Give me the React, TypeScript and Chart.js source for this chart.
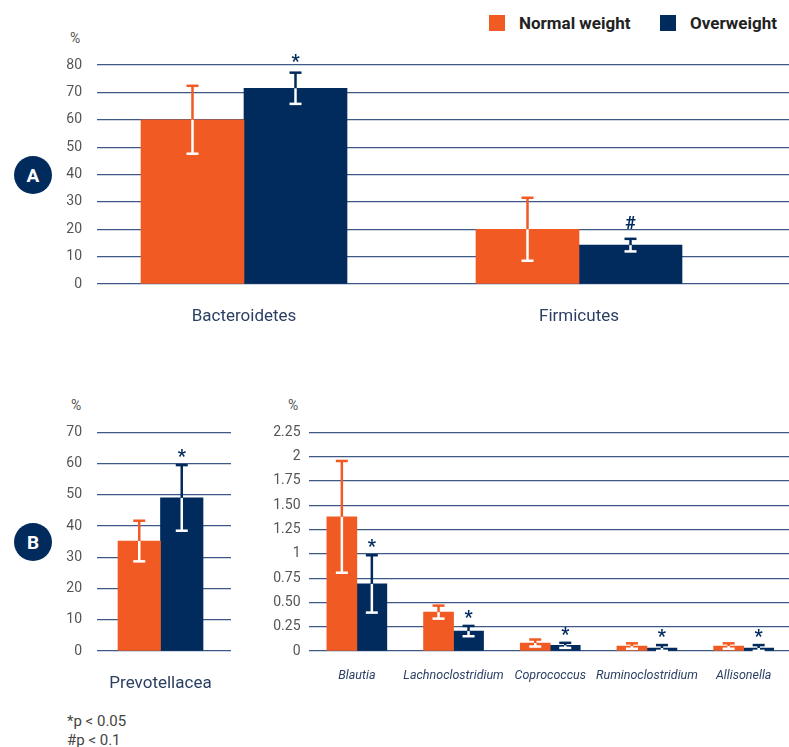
import React, { useEffect, useRef } from 'react';
import { Chart, registerables } from 'chart.js';

Chart.register(...registerables);

// ---------- data ----------
const seriesNames = ['Normal weight', 'Overweight'];

const categoriesA = ['Bacteroidetes', 'Firmicutes'];
const normalA = [60, 20];
const normalAErr = [12.4, 11.5];
const overA = [71.5, 14.2];
const overAErr = [5.7, 2.3];
const marksA = ['*', '#'];

const categoriesB1 = ['Prevotellacea'];
const normalB1 = [35.2];
const normalB1Err = [6.5];
const overB1 = [49.0];
const overB1Err = [10.5];
const marksB1 = ['*'];

const categoriesB2 = ['Blautia', 'Lachnoclostridium', 'Coprococcus', 'Ruminoclostridium', 'Allisonella'];
const normalB2 = [1.38, 0.4, 0.082, 0.051, 0.051];
const normalB2Err = [0.575, 0.067, 0.036, 0.028, 0.028];
const overB2 = [0.69, 0.205, 0.058, 0.031, 0.031];
const overB2Err = [0.295, 0.053, 0.026, 0.03, 0.03];
const marksB2 = ['*', '*', '*', '*', '*'];
const yTicksB2 = ['0', '0.25', '0.50', '0.75', '1', '1.25', '1.50', '1.75', '2', '2.25'];

const footnotes = ['*p < 0.05', '#p < 0.1'];

// ---------- styles ----------
const NAVY = '#002b5c';
const ORANGE = '#f15a22';
const GRID = '#3d5a86';
const TICK = '#555555';
const LABEL = '#2b3f63';
const FONT = "Roboto, 'Noto Sans', sans-serif";

Chart.defaults.font.family = FONT;

const errorBarsPlugin = {
  id: 'errorBars',
  afterDatasetsDraw(chart: any, _args: any, opts: any) {
    const ctx = chart.ctx;
    const yScale = chart.scales.y;
    const cap = opts.capWidth ?? 12;
    const lw = opts.lineWidth ?? 2.5;
    const gap = opts.gap ?? 12;
    ctx.save();
    ctx.lineWidth = lw;
    ctx.lineCap = 'butt';
    chart.data.datasets.forEach((ds: any, i: number) => {
      const meta = chart.getDatasetMeta(i);
      meta.data.forEach((el: any, j: number) => {
        const parsed = meta.controller.getParsed(j);
        const v = parsed.y;
        const e = ds.errors ? ds.errors[j] : 0;
        const x = el.x;
        const top = yScale.getPixelForValue(v + e);
        const bot = yScale.getPixelForValue(Math.max(v - e, 0));
        const barTop = el.y;
        const col = ds.backgroundColor;
        if (top < barTop) {
          ctx.strokeStyle = col;
          ctx.beginPath();
          ctx.moveTo(x, top);
          ctx.lineTo(x, Math.min(barTop, bot));
          ctx.stroke();
        }
        if (bot > barTop) {
          ctx.strokeStyle = '#ffffff';
          ctx.beginPath();
          ctx.moveTo(x, Math.max(top, barTop));
          ctx.lineTo(x, bot);
          ctx.stroke();
        }
        const drawCap = (yy: number) => {
          ctx.strokeStyle = yy < barTop ? col : '#ffffff';
          ctx.beginPath();
          ctx.moveTo(x - cap / 2, yy);
          ctx.lineTo(x + cap / 2, yy);
          ctx.stroke();
        };
        drawCap(top);
        if (v - e > 0) drawCap(bot);
        const mark = ds.marks ? ds.marks[j] : '';
        if (mark) {
          ctx.fillStyle = NAVY;
          ctx.font = `bold 18px ${FONT}`;
          ctx.textAlign = 'center';
          ctx.textBaseline = 'middle';
          const off = mark === '*' ? 3.5 : 0;
          ctx.fillText(mark, x, top - gap + off);
        }
      });
    });
    ctx.restore();
  },
};

function yAxis(min: number, max: number, step: number, width: number, pad: number, cb?: any) {
  return {
    min,
    max,
    afterFit: (s: any) => {
      s.width = width;
    },
    ticks: {
      stepSize: step,
      padding: pad,
      color: TICK,
      font: { size: 14 },
      ...(cb ? { callback: cb } : {}),
    },
    grid: { color: GRID, lineWidth: 1.2, drawTicks: false },
    border: { display: false },
  };
}

function linearCatAxis(cats: string[], min: number, max: number, height: number, pad: number) {
  return {
    type: 'linear',
    offset: false,
    min,
    max,
    grid: { display: false },
    border: { display: false },
    afterBuildTicks: (s: any) => {
      s.ticks = cats.map((_, i) => ({ value: i + 1 }));
    },
    afterFit: (s: any) => {
      s.height = height;
    },
    ticks: {
      autoSkip: false,
      maxRotation: 0,
      minRotation: 0,
      padding: pad,
      color: LABEL,
      font: { size: 17 },
      callback: (v: number) => cats[v - 1] ?? '',
    },
  };
}

const pts = (cats: string[], vals: number[]) => cats.map((_, i) => ({ x: i + 1, y: vals[i] }));

function configA(): any {
  return {
    type: 'bar',
    data: {
      datasets: [
        { label: seriesNames[0], data: pts(categoriesA, normalA), backgroundColor: ORANGE, errors: normalAErr, marks: [] },
        { label: seriesNames[1], data: pts(categoriesA, overA), backgroundColor: NAVY, errors: overAErr, marks: marksA },
      ],
    },
    options: {
      animation: false,
      responsive: false,
      maintainAspectRatio: false,
      layout: { padding: { top: 25, left: 0, right: 0, bottom: 0 } },
      datasets: { bar: { barThickness: 103, borderWidth: 0 } },
      plugins: {
        legend: { display: false },
        tooltip: { enabled: false },
        errorBars: { gap: 14, capWidth: 12, lineWidth: 2.5 },
      },
      scales: {
        x: linearCatAxis(categoriesA, 1 - 147 / 335, 2 + 210 / 335, 56, 15),
        y: yAxis(0, 80, 10, 97, 15),
      },
    },
    plugins: [errorBarsPlugin],
  };
}

function configB1(): any {
  return {
    type: 'bar',
    data: {
      datasets: [
        { label: seriesNames[0], data: pts(categoriesB1, normalB1), backgroundColor: ORANGE, errors: normalB1Err, marks: [] },
        { label: seriesNames[1], data: pts(categoriesB1, overB1), backgroundColor: NAVY, errors: overB1Err, marks: marksB1 },
      ],
    },
    options: {
      animation: false,
      responsive: false,
      maintainAspectRatio: false,
      layout: { padding: { top: 32.3, left: 0, right: 0, bottom: 0 } },
      datasets: { bar: { barThickness: 42.5, borderWidth: 0 } },
      plugins: {
        legend: { display: false },
        tooltip: { enabled: false },
        errorBars: { gap: 11, capWidth: 12, lineWidth: 2.5 },
      },
      scales: {
        x: linearCatAxis(categoriesB1, 0, 134 / 63.5, 49, 15),
        y: yAxis(0, 70, 10, 97, 15),
      },
    },
    plugins: [errorBarsPlugin],
  };
}

function configB2(): any {
  return {
    type: 'bar',
    data: {
      labels: categoriesB2,
      datasets: [
        { label: seriesNames[0], data: normalB2, backgroundColor: ORANGE, errors: normalB2Err, marks: [] },
        { label: seriesNames[1], data: overB2, backgroundColor: NAVY, errors: overB2Err, marks: marksB2 },
      ],
    },
    options: {
      animation: false,
      responsive: false,
      maintainAspectRatio: false,
      layout: { padding: { top: 32.3, left: 0, right: 0, bottom: 0 } },
      datasets: { bar: { barThickness: 30, borderWidth: 0 } },
      plugins: {
        legend: { display: false },
        tooltip: { enabled: false },
        errorBars: { gap: 11, capWidth: 12, lineWidth: 2.5 },
      },
      scales: {
        x: {
          grid: { display: false },
          border: { display: false },
          afterFit: (s: any) => {
            s.height = 49;
          },
          ticks: {
            autoSkip: false,
            maxRotation: 0,
            minRotation: 0,
            padding: 9,
            color: LABEL,
            font: { size: 12.5, style: 'italic' },
          },
        },
        y: yAxis(0, 2.25, 0.25, 108.5, 8, (_v: number, i: number) => yTicksB2[i]),
      },
    },
    plugins: [errorBarsPlugin],
  };
}

function ChartCanvas({ left, top, width, height, make }: any) {
  const ref = useRef<HTMLCanvasElement>(null);
  useEffect(() => {
    const chart = new Chart(ref.current as HTMLCanvasElement, make());
    return () => chart.destroy();
  }, []);
  return (
    <canvas
      ref={ref}
      width={width}
      height={height}
      style={{ position: 'absolute', left, top, width, height, display: 'block' }}
    />
  );
}

const txt = (left: number, top: number, size: number, extra: any = {}) => ({
  position: 'absolute' as const,
  left,
  top,
  fontSize: size,
  fontFamily: FONT,
  lineHeight: '16px',
  color: TICK,
  whiteSpace: 'nowrap' as const,
  ...extra,
});

function Badge({ top, letter }: { top: number; letter: string }) {
  return (
    <div
      style={{
        position: 'absolute',
        left: 14,
        top,
        width: 38,
        height: 38,
        borderRadius: '50%',
        background: NAVY,
        color: '#fff',
        fontFamily: FONT,
        fontWeight: 700,
        fontSize: 19,
        display: 'flex',
        alignItems: 'center',
        justifyContent: 'center',
      }}
    >
      {letter}
    </div>
  );
}

export default function App() {
  return (
    <div
      style={{
        position: 'absolute',
        left: 0,
        top: 0,
        width: 789,
        height: 747,
        overflow: 'hidden',
        background: '#fff',
        fontFamily: FONT,
      }}
    >
      <div style={{ position: 'absolute', left: 489, top: 15, width: 16, height: 16, background: ORANGE }} />
      <div style={txt(519, 13, 17, { fontWeight: 700, color: '#222', lineHeight: '20px' })}>{seriesNames[0]}</div>
      <div style={{ position: 'absolute', left: 660, top: 15, width: 16, height: 16, background: NAVY }} />
      <div style={txt(690, 13, 17, { fontWeight: 700, color: '#222', lineHeight: '20px' })}>{seriesNames[1]}</div>

      <div style={txt(70, 30, 14)}>%</div>
      <div style={txt(71, 397, 14)}>%</div>
      <div style={txt(288, 397, 14)}>%</div>

      <Badge top={156} letter="A" />
      <Badge top={523} letter="B" />

      <ChartCanvas left={0} top={40} width={789} height={300} make={configA} />
      <ChartCanvas left={0} top={400} width={231} height={300} make={configB1} />
      <ChartCanvas left={200} top={400} width={592} height={300} make={configB2} />

      <div style={txt(67, 712, 15, { lineHeight: '18.5px', color: '#444' })}>
        {footnotes.map((f) => (
          <div key={f}>{f}</div>
        ))}
      </div>
    </div>
  );
}
